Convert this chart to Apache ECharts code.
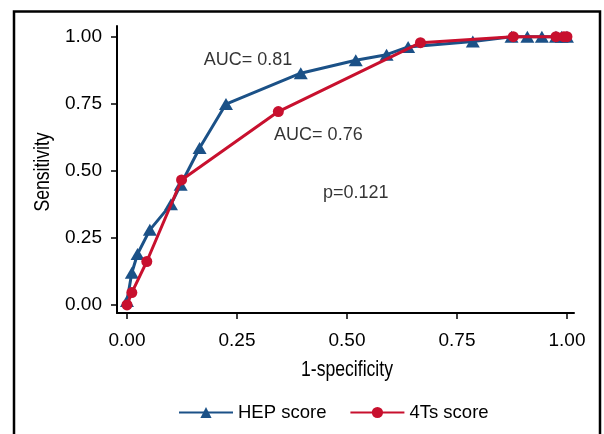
<!DOCTYPE html>
<html>
<head>
<meta charset="utf-8">
<script src="https://cdn.jsdelivr.net/npm/echarts@6/dist/echarts.min.js"></script>
<style>
  html, body { margin: 0; padding: 0; background: #fff; }
  #chart { width: 604px; height: 434px; }
</style>
</head>
<body>
<div id="chart"></div>
<script>
// ROC points: [1-specificity, sensitivity]
const hepScore = [
    [0.0, 0.015], [0.011, 0.12], [0.024, 0.19], [0.052, 0.28], [0.10, 0.375],
    [0.122, 0.448], [0.165, 0.585], [0.225, 0.749], [0.395, 0.864], [0.52, 0.912],
    [0.59, 0.933], [0.639, 0.962], [0.786, 0.982], [0.874, 1.0], [0.91, 1.0],
    [0.943, 1.0], [0.975, 1.0], [0.988, 1.0], [1.0, 1.0]
];
const fourTsScore = [
    [0.0, 0.0], [0.011, 0.046], [0.045, 0.162], [0.124, 0.466], [0.344, 0.721],
    [0.667, 0.978], [0.878, 1.0], [0.975, 1.0], [0.993, 1.0], [1.0, 1.0]
];
const tickValues = [0, 0.25, 0.5, 0.75, 1];
const annotations = [
    { text: 'AUC= 0.81', at: [0.275, 0.913] },
    { text: 'AUC= 0.76', at: [0.435, 0.634] },
    { text: 'p=0.121', at: [0.52, 0.418] }
];
const xTitle = '1-specificity';
const yTitle = 'Sensitivity';

const BLUE = '#1b5187';
const RED = '#c8102e';
const FONT = '"Liberation Sans", Arial, sans-serif';

const chart = echarts.init(document.getElementById('chart'), undefined, { renderer: 'canvas' });

function axis(extra, labelMargin) {
    return Object.assign({
        type: 'value',
        axisLine: { show: true, onZero: false, lineStyle: { color: '#000', width: 2 } },
        axisTick: { show: true, length: 6, customValues: tickValues, lineStyle: { color: '#000', width: 1.5 } },
        axisLabel: {
            customValues: tickValues,
            fontFamily: FONT, fontSize: 19, color: '#000', margin: labelMargin,
            formatter: v => v.toFixed(2)
        },
        splitLine: { show: false }
    }, extra);
}

// condensed axis titles: plain sans squeezed horizontally
const titleStyle = { fontFamily: FONT, fontSize: 22, fill: '#000', align: 'center', verticalAlign: 'middle' };

chart.setOption({
    animation: false,
    backgroundColor: '#fff',
    grid: { left: 117, right: 30, top: 26, bottom: 121, containLabel: false },
    xAxis: axis({ min: -0.0227, max: 1.016 }, 18),
    yAxis: axis({ min: -0.03, max: 1.04 }, 15),
    legend: {
        data: ['HEP score', '4Ts score'],
        left: 178,
        top: 403,
        padding: 0,
        itemWidth: 54,
        itemHeight: 14,
        itemGap: 23,
        textStyle: { fontFamily: FONT, fontSize: 18.5, color: '#000' }
    },
    graphic: [
        {
            type: 'polyline',
            shape: { points: [[14, 434], [14, 11.5], [600, 11.5], [600, 434]] },
            style: { stroke: '#000', lineWidth: 2.5, fill: null },
            silent: true
        },
        {
            type: 'text',
            x: 347, y: 370, scaleX: 0.8,
            style: Object.assign({ text: xTitle }, titleStyle),
            silent: true
        },
        {
            type: 'text',
            x: 42.5, y: 172, rotation: Math.PI / 2, scaleX: 0.8,
            style: Object.assign({ text: yTitle }, titleStyle),
            silent: true
        }
    ],
    series: [
        {
            name: 'HEP score',
            type: 'line',
            data: hepScore,
            symbol: 'triangle',
            symbolSize: [14, 12],
            lineStyle: { color: BLUE, width: 3 },
            itemStyle: { color: BLUE },
            z: 2
        },
        {
            name: '4Ts score',
            type: 'line',
            data: fourTsScore,
            symbol: 'circle',
            symbolSize: 11,
            lineStyle: { color: RED, width: 3 },
            itemStyle: { color: RED },
            z: 3
        },
        {
            name: 'notes',
            type: 'scatter',
            data: annotations.map(a => ({ value: a.at, name: a.text })),
            symbolSize: 1,
            itemStyle: { color: 'transparent' },
            silent: true,
            label: {
                show: true,
                position: 'inside',
                formatter: p => p.name,
                fontFamily: FONT,
                fontSize: 18,
                color: '#000'
            },
            z: 4
        }
    ]
});
</script>
</body>
</html>
